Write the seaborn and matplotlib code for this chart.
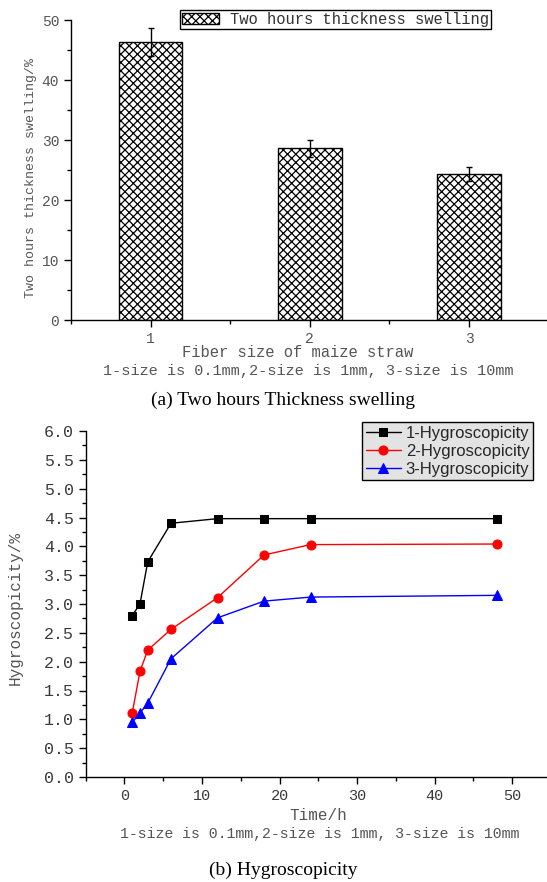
"""Two-panel figure: thickness swelling bars and hygroscopicity curves."""

import numpy as np
import pandas as pd
import matplotlib
matplotlib.use("Agg")
import matplotlib.pyplot as plt
from matplotlib.ticker import MultipleLocator, FormatStrFormatter
import seaborn as sns

# Panel (a) data
fiber_size = [1, 2, 3]
swelling = [46.3, 28.6, 24.3]
swelling_err = [2.3, 1.4, 1.2]

# Panel (b) data
time_h = [1, 2, 3, 6, 12, 18, 24, 48]
hygro_1 = [2.80, 3.00, 3.73, 4.40, 4.48, 4.48, 4.48, 4.48]
hygro_2 = [1.11, 1.83, 2.20, 2.56, 3.11, 3.85, 4.03, 4.04]
hygro_3 = [0.95, 1.11, 1.28, 2.05, 2.76, 3.05, 3.12, 3.15]
series_names = ["1-Hygroscopicity", "2-Hygroscopicity", "3-Hygroscopicity"]
series_colors = ["black", "#ff0000", "#0000ff"]
series_markers = ["s", "o", "^"]
marker_sizes = [6, 6.5, 7.5]

note = "1-size is 0.1mm,2-size is 1mm, 3-size is 10mm"

sns.set_style("ticks")
plt.rcParams["font.family"] = ["Liberation Mono", "DejaVu Sans Mono"]
plt.rcParams["hatch.linewidth"] = 0.9
GRAY = "#555555"

W, H = 547, 882
fig = plt.figure(figsize=(W / 100, H / 100), dpi=100)


def px_axes(left, top, right, bottom):
    return fig.add_axes([left / W, 1 - bottom / H, (right - left) / W, (bottom - top) / H])


def style_axes(ax):
    for side in ["top", "right"]:
        ax.spines[side].set_visible(False)
    for side in ["left", "bottom"]:
        ax.spines[side].set_linewidth(1.0)
        ax.spines[side].set_color("black")
    ax.tick_params(which="major", direction="out", length=5, width=1, colors="black",
                   labelcolor=GRAY)
    ax.tick_params(which="minor", direction="out", length=3, width=1, colors="black")


# ---------------------------------------------------------------------------
# (a) Two hours thickness swelling
# ---------------------------------------------------------------------------
ax1 = px_axes(71, 20, 547, 320)
df_a = pd.DataFrame({"size": fiber_size, "swelling": swelling})
sns.barplot(data=df_a, x="size", y="swelling", native_scale=True, width=0.4,
            color="white", edgecolor="black", linewidth=1.0, hatch="xxxx",
            errorbar=None, ax=ax1, label="Two hours thickness swelling")
ax1.errorbar(fiber_size, swelling, yerr=swelling_err, fmt="none", ecolor="black",
             elinewidth=1, capsize=2.5, capthick=1)
ax1.set_xlim(0.5, 3.49)
ax1.set_ylim(0, 50)
ax1.xaxis.set_major_locator(MultipleLocator(1))
ax1.xaxis.set_minor_locator(MultipleLocator(0.5))
ax1.yaxis.set_major_locator(MultipleLocator(10))
ax1.yaxis.set_minor_locator(MultipleLocator(5))
style_axes(ax1)
ax1.tick_params(labelsize=10.5)
ax1.set_xlabel("")
ax1.set_ylabel("Two hours thickness swelling/%", fontsize=9.5, color=GRAY)
ax1.yaxis.label.set_verticalalignment("center")
ax1.yaxis.set_label_coords(-0.084, 0.473)
leg1 = ax1.legend(loc="upper left", bbox_to_anchor=(180 / W, 1 - 10 / H),
                  bbox_transform=fig.transFigure, frameon=True, fancybox=False,
                  edgecolor="black", framealpha=1, fontsize=11.2, handlelength=2.4,
                  handleheight=0.8, borderpad=0.12, handletextpad=0.7,
                  borderaxespad=0)
leg1.get_frame().set_linewidth(1.0)
for t in leg1.get_texts():
    t.set_color("#333333")

fig.text(298 / W, 1 - 352 / H, "Fiber size of maize straw", ha="center", va="center",
         fontsize=11.2, color=GRAY)
fig.text(308 / W, 1 - 371 / H, note, ha="center", va="center", fontsize=11, color=GRAY)
fig.text(283 / W, 1 - 400 / H, "(a) Two hours Thickness swelling", ha="center",
         va="center", fontsize=14, family="Liberation Serif", color="black")

# ---------------------------------------------------------------------------
# (b) Hygroscopicity
# ---------------------------------------------------------------------------
ax2 = px_axes(85.7, 431, 547, 777)
df_b = pd.DataFrame({"time": time_h * 3,
                     "value": hygro_1 + hygro_2 + hygro_3,
                     "series": np.repeat(series_names, len(time_h))})
for name, color, marker, ms in zip(series_names, series_colors, series_markers, marker_sizes):
    sns.lineplot(data=df_b[df_b["series"] == name], x="time", y="value", color=color,
                 marker=marker, markersize=ms, markeredgecolor=color, linewidth=1.0,
                 label=name, ax=ax2)
ax2.set_xlim(-5, 54.5)
ax2.set_ylim(0, 6)
ax2.xaxis.set_major_locator(MultipleLocator(10))
ax2.xaxis.set_minor_locator(MultipleLocator(5))
ax2.yaxis.set_major_locator(MultipleLocator(0.5))
ax2.yaxis.set_minor_locator(MultipleLocator(0.25))
ax2.yaxis.set_major_formatter(FormatStrFormatter("%.1f"))
style_axes(ax2)
ax2.tick_params(axis="both", labelcolor="#3a3a3a")
ax2.tick_params(axis="x", labelsize=11)
ax2.tick_params(axis="y", labelsize=12)
ax2.set_xlabel("")
ax2.set_ylabel("Hygroscopicity/%", fontsize=11.5, color=GRAY)
ax2.yaxis.label.set_verticalalignment("center")
ax2.yaxis.set_label_coords(-0.152, 0.488)
leg2 = ax2.legend(loc="upper left", bbox_to_anchor=(362 / W, 1 - 422 / H),
                  bbox_transform=fig.transFigure, frameon=True, fancybox=False,
                  edgecolor="black", facecolor="#e3e3e3", framealpha=1,
                  prop={"family": "Liberation Sans", "size": 12}, handlelength=2.1,
                  borderpad=0.22, labelspacing=0.18, handletextpad=0.3,
                  borderaxespad=0)
leg2.get_frame().set_linewidth(1.0)

fig.text(318 / W, 1 - 816 / H, "Time/h", ha="center", va="center", fontsize=11.5,
         color=GRAY)
fig.text(320 / W, 1 - 834 / H, note, ha="center", va="center", fontsize=10.7, color=GRAY)
fig.text(283 / W, 1 - 870 / H, "(b) Hygroscopicity", ha="center", va="center",
         fontsize=14, family="Liberation Serif", color="black")

fig.savefig("out.png", dpi=100, facecolor="white")
